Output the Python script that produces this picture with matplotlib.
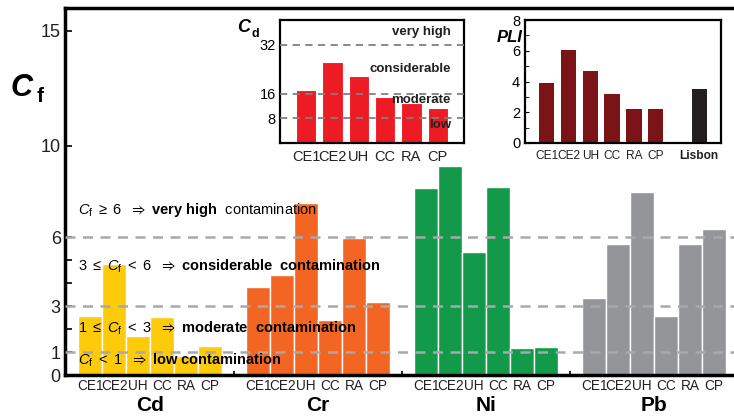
import matplotlib.pyplot as plt

plt.rcParams["font.family"] = ["Liberation Sans", "DejaVu Sans"]
plt.rcParams["mathtext.fontset"] = "custom"
plt.rcParams["mathtext.rm"] = "Liberation Sans"
plt.rcParams["mathtext.it"] = "Liberation Sans:italic"
plt.rcParams["mathtext.bf"] = "Liberation Sans:bold"
plt.rcParams["mathtext.fallback"] = "stixsans"

sites = ["CE1", "CE2", "UH", "CC", "RA", "CP"]
metals = ["Cd", "Cr", "Ni", "Pb"]
cf_cd = [2.57, 4.84, 1.70, 2.53, 0.81, 1.26]
cf_cr = [3.82, 4.36, 7.51, 2.40, 5.97, 3.18]
cf_ni = [8.15, 9.12, 5.37, 8.18, 1.18, 1.20]
cf_pb = [3.36, 5.71, 7.97, 2.57, 5.69, 6.35]
cd_degree = [17.2, 26.2, 21.7, 14.8, 13.1, 11.3]
pli = [3.89, 6.03, 4.70, 3.18, 2.24, 2.20]
pli_lisbon = 3.48

metal_colors = ["#FDCB0A", "#F26522", "#12994A", "#939598"]
dash_col = "#A7A9AC"

fig = plt.figure(figsize=(7.34, 4.16), dpi=100)

# main Cf chart
ax = fig.add_axes([65 / 734, 41 / 416, 690 / 734, 367 / 416])
tick_pos, tick_lab = [], []
for g, vals in enumerate([cf_cd, cf_cr, cf_ni, cf_pb]):
    xs = [g * 7 + i for i in range(len(sites))]
    ax.bar(xs, vals, width=1.0, color=metal_colors[g], edgecolor="white", linewidth=1, zorder=2)
    tick_pos += xs + [g * 7 + 6]
    tick_lab += sites + [""]
    ax.text(g * 7 + 2.5, -1.33, metals[g], ha="center", va="center", fontsize=15, fontweight="bold")

for lvl in [1, 3, 6]:
    ax.axhline(lvl, color=dash_col, linestyle=(0, (4, 3)), linewidth=1.8, zorder=3)

ax.set_xlim(-1.05, 27.7)
ax.set_ylim(0, 16)
ax.set_xticks(tick_pos[:-1])
ax.set_xticklabels(tick_lab[:-1], fontsize=9.8, color="#231F20")
ax.set_yticks([0, 1, 2, 3, 4, 5, 6, 10, 15])
ax.set_yticklabels(["0", "1", "", "3", "", "", "6", "10", "15"], fontsize=13, color="#231F20")
ax.tick_params(direction="in", length=5, width=1.2, pad=3)
ax.tick_params(axis="x", pad=3, length=3)
for s in ["left", "bottom", "top"]:
    ax.spines[s].set_linewidth(2.5)
ax.spines["right"].set_visible(False)

fs = 10.5
ax.text(-0.5, 6.8, r"$C_\mathrm{f}\ \geq\ 6\ \ \Rightarrow\ \mathbf{very\ high}$  contamination",
        fontsize=fs, va="bottom", zorder=4)
ax.text(-0.5, 4.35, r"$3\ \leq\ C_\mathrm{f}\ <\ 6\ \ \Rightarrow\ \mathbf{considerable\ \ contamination}$",
        fontsize=fs, va="bottom", zorder=4)
ax.text(-0.5, 1.65, r"$1\ \leq\ C_\mathrm{f}\ <\ 3\ \ \Rightarrow\ \mathbf{moderate\ \ contamination}$",
        fontsize=fs, va="bottom", zorder=4)
ax.text(-0.5, 0.25, r"$C_\mathrm{f}\ <\ 1\ \ \Rightarrow\ \mathbf{low\ contamination}$",
        fontsize=fs, va="bottom", zorder=4)

fig.text(11 / 734, 1 - 88 / 416, "C", fontsize=22, fontweight="bold", fontstyle="italic", va="center")
fig.text(37 / 734, 1 - 96 / 416, "f", fontsize=15, fontweight="bold", va="center")

# inset: degree of contamination Cd
ax1 = fig.add_axes([280 / 734, 1 - 143 / 416, 184 / 734, 123 / 416])
ax1.bar(range(len(sites)), cd_degree, width=0.77, color="#ED1C24", edgecolor="white", linewidth=0.8, zorder=2)
for lvl in [8, 16, 32]:
    ax1.axhline(lvl, color="#808080", linestyle=(0, (4, 3)), linewidth=1.3, zorder=3)
ax1.set_xlim(-1, 6)
ax1.set_ylim(0, 40)
ax1.set_xticks(range(len(sites)))
ax1.set_xticklabels(sites, fontsize=10.5, color="#231F20")
ax1.set_yticks([8, 16, 32])
ax1.tick_params(direction="in", length=0, labelsize=10.5, pad=3)
ax1.tick_params(axis="x", pad=5)
for s in ax1.spines.values():
    s.set_linewidth(1.6)
for txt, yv in [("very high", 36.2), ("considerable", 24.0), ("moderate", 14.0), ("low", 6.0)]:
    ax1.text(5.5, yv, txt, ha="right", va="center", fontsize=9.5, fontweight="bold", color="#231F20", zorder=4)
fig.text(237 / 734, 1 - 28 / 416, "C", fontsize=13, fontweight="bold", fontstyle="italic", va="center")
fig.text(251 / 734, 1 - 34 / 416, "d", fontsize=9, fontweight="bold", va="center")

# inset: pollution load index
ax2 = fig.add_axes([525 / 734, 1 - 143 / 416, 196 / 734, 123 / 416])
ax2.bar(range(len(sites)), pli, width=0.7, color="#7B1416", zorder=2)
ax2.bar([7], [pli_lisbon], width=0.7, color="#231F20", zorder=2)
ax2.set_xlim(-1, 8)
ax2.set_ylim(0, 8)
ax2.set_xticks(list(range(len(sites))) + [7])
ax2.set_xticklabels(sites + ["Lisbon"], fontsize=8.6, color="#231F20")
ax2.get_xticklabels()[-1].set_fontweight("bold")
ax2.set_yticks([0, 2, 4, 6, 8])
ax2.set_yticks([1, 3, 5, 7], minor=True)
ax2.tick_params(axis="y", which="both", direction="in", length=3, labelsize=10.5)
ax2.tick_params(axis="x", length=0, pad=5)
for s in ax2.spines.values():
    s.set_linewidth(1.6)
fig.text(497 / 734, 1 - 38 / 416, "PLI", fontsize=12, fontweight="bold", fontstyle="italic", va="center")

fig.savefig("out.png", dpi=100)
